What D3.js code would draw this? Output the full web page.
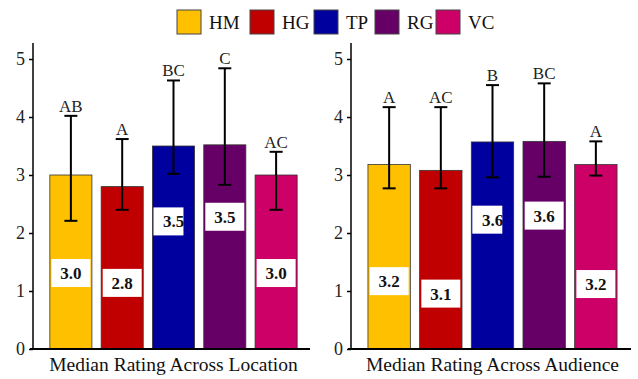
<!DOCTYPE html>
<meta charset="utf-8">
<style>
  html, body { margin: 0; padding: 0; background: #fff; }
  svg { display: block; font-family: "Liberation Serif", "DejaVu Serif", serif; }
  .axis path, .axis line { stroke: #000; stroke-width: 1.5; }
  .axis text { font-size: 18px; fill: #222; font-family: "Liberation Serif", serif; }
  .err { stroke: #000; stroke-width: 2; }
  .letter { font-size: 17px; fill: #222; text-anchor: middle; }
  .val { font-size: 17px; font-weight: bold; fill: #111; text-anchor: middle; }
  .title { font-size: 19.5px; fill: #111; text-anchor: middle; }
  .legend text { font-size: 19px; fill: #111; }
</style>
<div id="chart"></div>
<script src="https://cdnjs.cloudflare.com/ajax/libs/d3/7.8.5/d3.min.js"></script>
<script>
// groups and colours
var groups = ["HM", "HG", "TP", "RG", "VC"];
var colors = ["#FFC000", "#C00000", "#00009F", "#660066", "#CC0066"];

// location panel
var locMedian = [3.0, 2.8, 3.5, 3.52, 3.0];
var locLow    = [2.21, 2.40, 3.02, 2.83, 2.40];
var locHigh   = [4.02, 3.62, 4.63, 4.84, 3.40];
var locLetters = ["AB", "A", "BC", "C", "AC"];
var locLabelAt = [1.31, 1.14, 2.2, 2.28, 1.31];

// audience panel
var audMedian = [3.18, 3.08, 3.57, 3.58, 3.18];
var audLow    = [2.77, 2.77, 2.96, 2.97, 2.99];
var audHigh   = [4.17, 4.17, 4.55, 4.58, 3.58];
var audLetters = ["A", "AC", "B", "BC", "A"];
var audLabelAt = [1.17, 0.955, 2.23, 2.30, 1.12];

var yTicks = [0, 1, 2, 3, 4, 5];

var W = 638, H = 379;
var svg = d3.select("#chart").append("svg").attr("width", W).attr("height", H);

var y = d3.scaleLinear().domain([0, 5.276]).range([349, 43]);

function panel(axisX, xr, lineEnd, med, lo, hi, letters, labelAt, title) {
  var x = d3.scaleBand().domain(groups).range(xr)
    .paddingInner(0.18).paddingOuter(0.27);
  var g = svg.append("g");

  // bars
  g.selectAll("rect.bar").data(groups).enter().append("rect")
    .attr("class", "bar")
    .attr("x", function(d) { return x(d); })
    .attr("width", x.bandwidth())
    .attr("y", function(d, i) { return y(med[i]); })
    .attr("height", function(d, i) { return y(0) - y(med[i]); })
    .attr("fill", function(d, i) { return colors[i]; })
    .attr("stroke", "#333").attr("stroke-width", 0.8);

  // error bars
  var cw = 6.5;
  groups.forEach(function(d, i) {
    var cx = x(d) + x.bandwidth() / 2;
    g.append("line").attr("class", "err")
      .attr("x1", cx).attr("x2", cx).attr("y1", y(lo[i])).attr("y2", y(hi[i]));
    g.append("line").attr("class", "err")
      .attr("x1", cx - cw).attr("x2", cx + cw).attr("y1", y(lo[i])).attr("y2", y(lo[i]));
    g.append("line").attr("class", "err")
      .attr("x1", cx - cw).attr("x2", cx + cw).attr("y1", y(hi[i])).attr("y2", y(hi[i]));
    g.append("text").attr("class", "letter")
      .attr("x", cx).attr("y", y(hi[i]) - 4).text(letters[i]);

    // value label box
    var bw = i === 2 ? 30 : 39;
    var bx = i === 2 ? x(d) + 1 : cx - bw / 2;
    var cy = y(labelAt[i]);
    g.append("rect").attr("x", bx).attr("y", cy - 14).attr("width", bw).attr("height", 28)
      .attr("fill", "#fff");
    g.append("text").attr("class", "val")
      .attr("x", cx).attr("y", cy + 6).text(med[i].toFixed(1));
  });

  // axes
  var ya = g.append("g").attr("class", "axis")
    .attr("transform", "translate(" + axisX + ",0)")
    .call(d3.axisLeft(y).tickValues(yTicks).tickSize(4).tickPadding(4).tickFormat(d3.format("d")));
  ya.attr("font-family", null).attr("font-size", null);
  ya.select(".domain").remove();
  ya.append("line").attr("x1", 0).attr("x2", 0).attr("y1", 43).attr("y2", 349)
    .attr("stroke", "#000").attr("stroke-width", 1.5);
  g.append("line").attr("x1", axisX - 3).attr("x2", lineEnd)
    .attr("y1", y(0)).attr("y2", y(0)).attr("stroke", "#000").attr("stroke-width", 1.8);

  g.append("text").attr("class", "title")
    .attr("x", (xr[0] + xr[1]) / 2).attr("y", 371).text(title);
}

panel(33, [36, 311], 310, locMedian, locLow, locHigh, locLetters, locLabelAt,
  "Median Rating Across Location");
panel(351, [354, 631], 631, audMedian, audLow, audHigh, audLetters, audLabelAt,
  "Median Rating Across Audience");

// legend
var lg = svg.append("g").attr("class", "legend");
var boxX = [177, 250, 314, 375, 436];
groups.forEach(function(d, i) {
  lg.append("rect").attr("x", boxX[i]).attr("y", 10).attr("width", 24).attr("height", 24)
    .attr("fill", colors[i]).attr("stroke", "#444").attr("stroke-width", 1);
  lg.append("text").attr("x", boxX[i] + 32).attr("y", 28.5).text(d);
});
</script>
